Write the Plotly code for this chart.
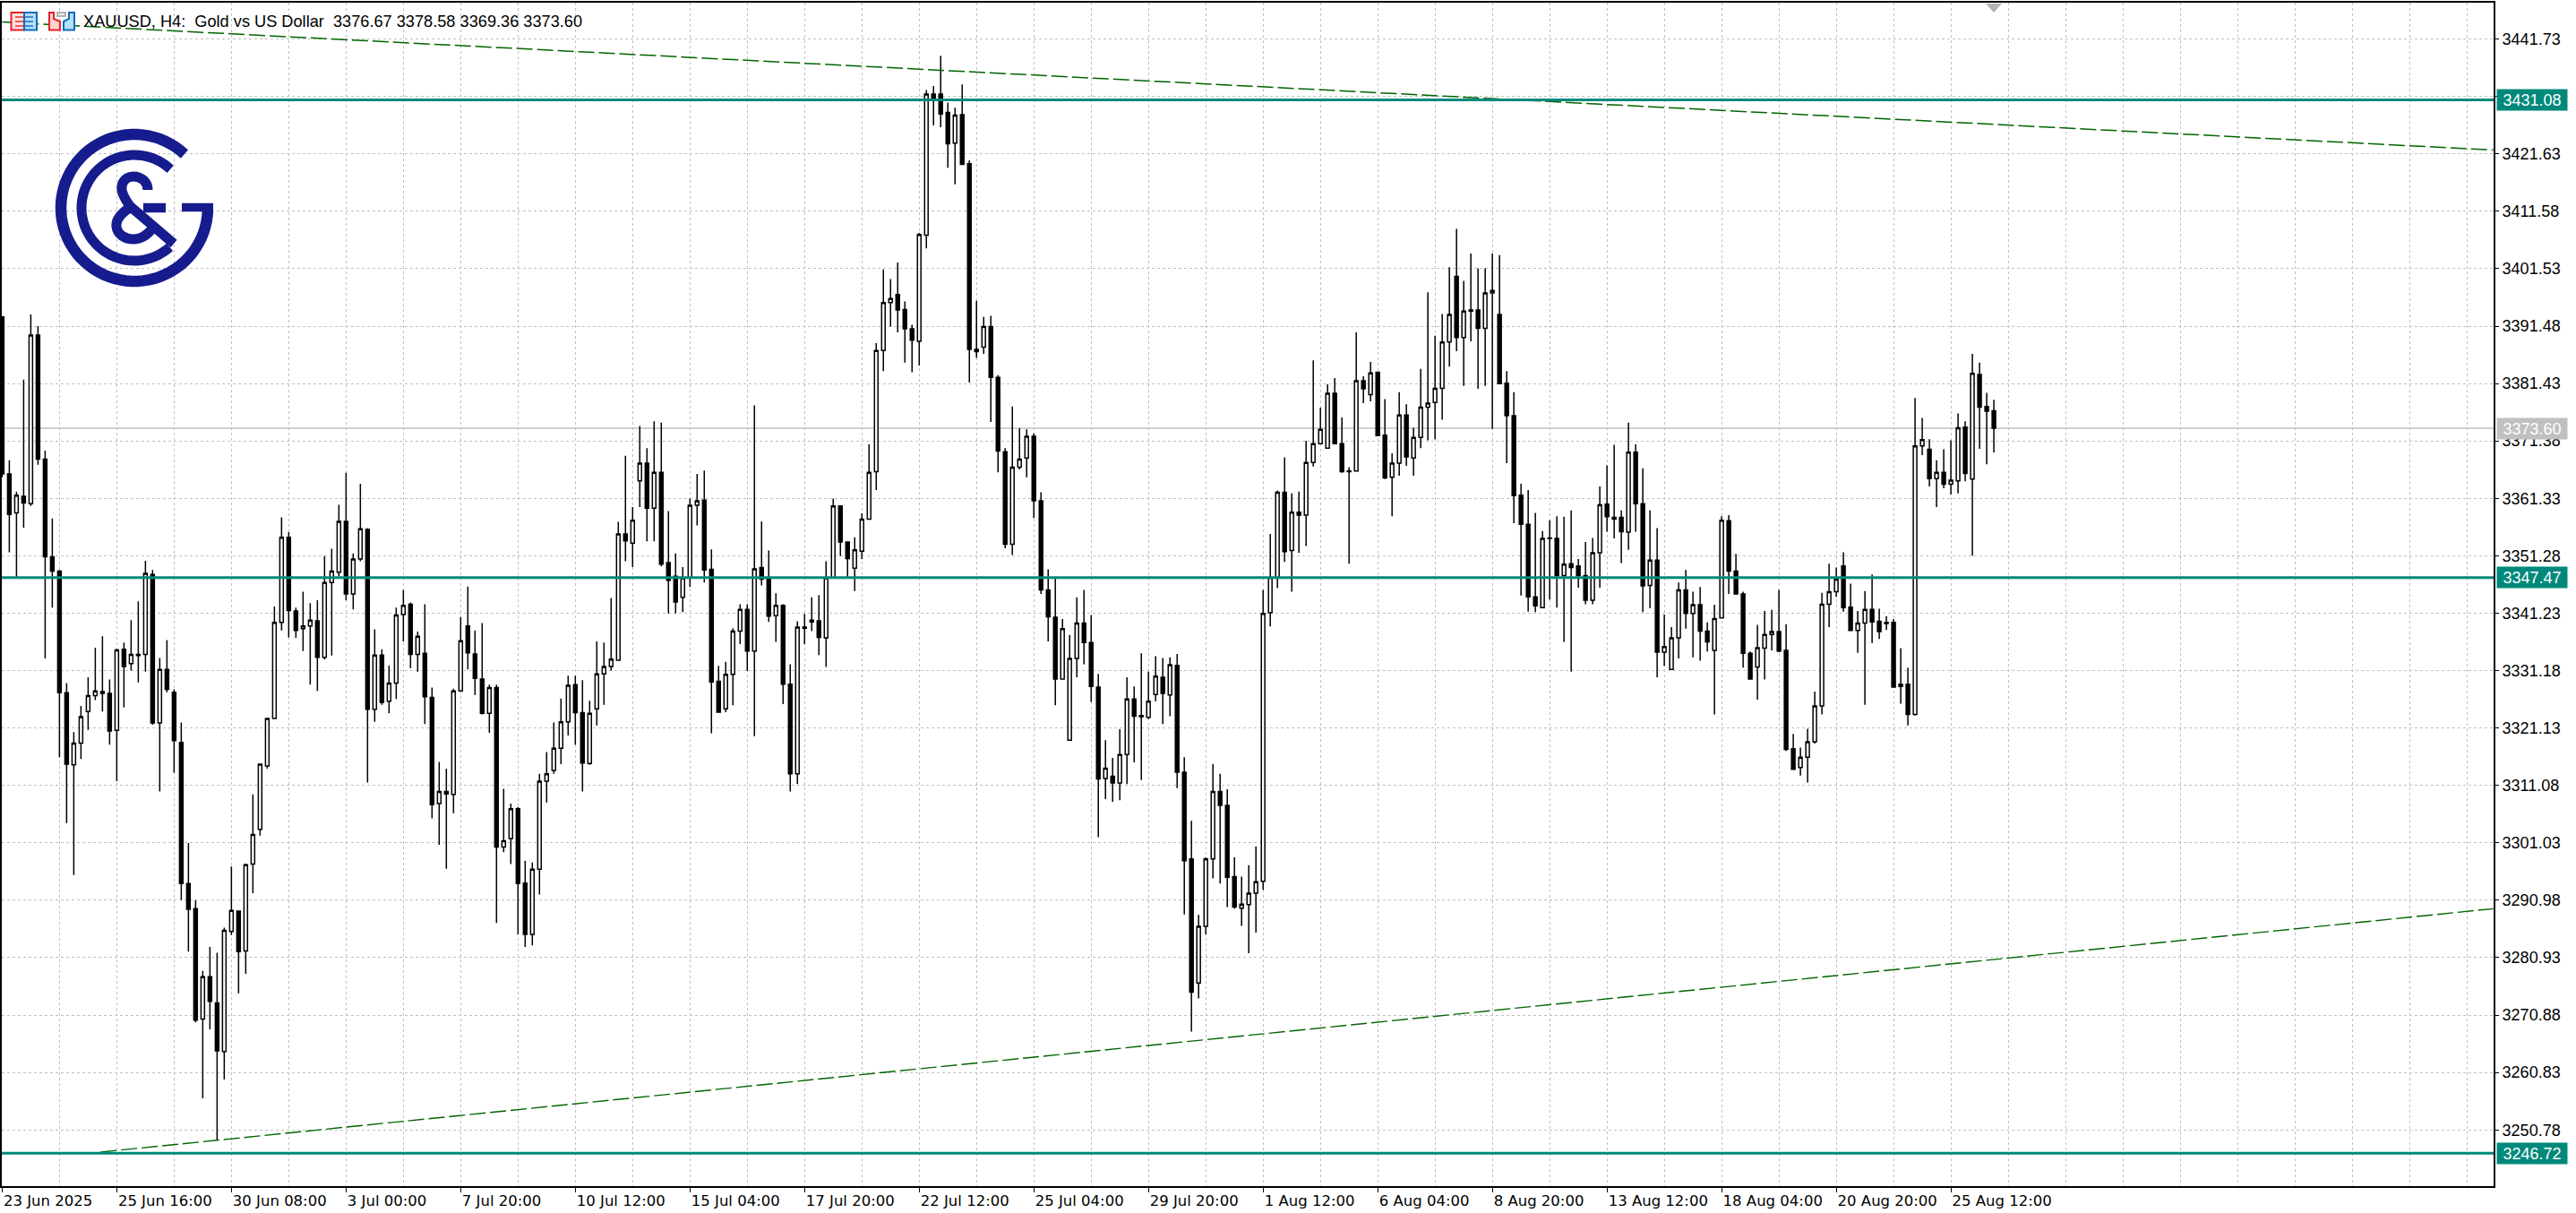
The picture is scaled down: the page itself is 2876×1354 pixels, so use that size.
import numpy as np
import plotly.graph_objects as go

WIDTH, HEIGHT = 2876, 1354
LEFT, RIGHT, TOP, BOTTOM = 2, 2784, 3, 1324

open_ = [
 3393.1,3365.6,3358.8,3361.7,3360.4,3389.9,3368.2,3351.1,3348.6,3327.3,
 3314.7,3318.5,3324.0,3326.8,3327.5,3327.2,3320.7,3334.9,3332.4,3334.0,
 3334.0,3348.0,3322.0,3331.4,3327.4,3318.6,3293.9,3289.5,3270.2,3277.6,
 3273.0,3264.5,3285.5,3289.1,3282.1,3297.3,3303.4,3314.5,3322.8,3339.6,
 3354.5,3341.6,3338.5,3339.0,3339.9,3333.5,3346.6,3348.4,3357.3,3344.6,
 3350.7,3355.9,3324.4,3333.9,3325.8,3329.0,3341.0,3342.8,3334.0,3334.2,
 3326.5,3307.9,3310.0,3309.5,3327.6,3339.0,3334.1,3329.7,3323.7,3328.2,
 3300.3,3301.8,3307.0,3294.0,3285.0,3296.4,3311.8,3313.7,3317.6,3322.2,
 3328.7,3323.8,3314.9,3324.5,3330.6,3331.9,3333.0,3355.1,3353.5,3364.4,
 3367.5,3359.6,3365.9,3350.1,3347.7,3344.0,3347.4,3360.1,3361.0,3348.9,
 3329.3,3324.5,3330.5,3338.1,3341.9,3334.6,3349.2,3347.2,3340.8,3342.6,
 3328.8,3313.1,3338.8,3340.0,3339.9,3336.9,3347.4,3360.0,3353.7,3349.1,
 3352.1,3357.7,3366.0,3387.2,3395.6,3397.0,3394.4,3391.0,3388.8,3407.4,
 3432.1,3432.1,3428.9,3423.5,3428.5,3419.9,3387.4,3387.8,3391.4,3382.5,
 3369.5,3353.3,3366.8,3368.4,3372.2,3360.9,3345.3,3340.5,3329.7,3319.0,
 3333.3,3339.5,3336.1,3328.3,3312.3,3312.7,3311.5,3316.5,3326.2,3323.3,
 3323.0,3327.0,3330.0,3326.9,3332.1,3313.4,3298.2,3276.5,3286.4,3298.2,
 3310.0,3307.6,3295.1,3289.6,3290.2,3292.2,3294.3,3341.3,3347.5,3362.4,
 3352.2,3358.9,3358.4,3367.6,3370.9,3370.1,3379.7,3370.9,3366.0,3366.1,
 3381.9,3379.5,3383.4,3372.4,3365.0,3367.5,3375.9,3368.4,3372.0,3377.3,
 3378.1,3380.6,3388.7,3400.2,3389.5,3394.3,3394.3,3391.1,3397.3,3393.5,
 3381.5,3375.8,3361.9,3356.8,3344.1,3342.2,3354.4,3354.3,3347.8,3349.9,
 3349.5,3347.8,3343.5,3351.8,3360.3,3358.0,3358.0,3355.4,3369.4,3360.4,
 3346.1,3350.5,3334.4,3331.4,3336.9,3345.3,3341.2,3342.7,3338.1,3334.7,
 3340.4,3357.4,3348.6,3344.6,3334.2,3331.8,3335.1,3337.5,3338.0,3334.7,
 3317.5,3314.2,3316.0,3318.7,3325.0,3342.8,3345.0,3349.5,3342.3,3338.2,
 3339.5,3341.9,3339.8,3339.6,3339.6,3328.4,3328.8,3323.5,3370.5,3369.9,
 3364.8,3365.9,3363.8,3364.4,3373.8,3364.7,3383.0,3377.4,3376.67,
]
high = [
 3393.2,3368.0,3362.5,3382.1,3393.5,3391.5,3369.7,3357.8,3348.8,3329.0,
 3320.4,3325.0,3330.0,3335.2,3337.2,3329.6,3335.0,3336.1,3340.0,3343.3,
 3350.4,3348.8,3333.4,3336.5,3327.9,3322.1,3301.0,3291.0,3278.6,3282.8,
 3281.8,3286.2,3296.9,3289.2,3297.4,3309.5,3314.8,3322.9,3342.4,3358.0,
 3355.4,3342.2,3345.0,3343.0,3343.5,3351.2,3352.5,3360.2,3365.8,3351.7,
 3363.9,3356.1,3338.4,3334.9,3332.1,3342.2,3345.3,3343.1,3338.0,3342.8,
 3328.2,3315.2,3314.0,3328.0,3340.5,3345.9,3338.2,3339.5,3328.7,3328.7,
 3310.5,3307.9,3307.3,3297.9,3297.6,3313.1,3316.9,3322.1,3326.3,3330.3,
 3330.3,3329.5,3325.9,3336.3,3336.1,3343.9,3357.2,3368.8,3359.8,3374.0,
 3370.1,3374.8,3374.6,3359.1,3351.7,3349.3,3361.3,3365.6,3366.2,3352.4,
 3332.0,3332.7,3338.6,3342.8,3342.8,3377.6,3357.3,3352.2,3344.7,3342.8,
 3332.3,3339.8,3341.1,3344.0,3344.4,3350.3,3361.3,3360.1,3353.7,3354.5,
 3358.7,3370.8,3388.5,3401.4,3399.7,3402.6,3395.8,3391.7,3407.8,3432.8,
 3433.5,3438.8,3430.6,3429.7,3433.8,3420.5,3395.9,3393.1,3393.3,3382.9,
 3370.1,3377.4,3373.6,3373.4,3372.7,3362.4,3348.9,3347.4,3340.2,3337.4,
 3344.0,3345.3,3340.9,3330.6,3319.0,3315.9,3320.9,3330.0,3328.4,3334.2,
 3331.0,3333.7,3333.4,3333.5,3334.1,3316.0,3304.9,3288.4,3298.5,3314.8,
 3313.1,3310.4,3298.5,3295.1,3297.1,3300.4,3345.3,3355.1,3362.7,3368.5,
 3362.2,3362.5,3371.4,3385.5,3377.2,3381.3,3382.4,3375.5,3366.8,3390.4,
 3382.7,3385.2,3383.5,3378.7,3369.2,3379.9,3377.8,3373.7,3384.0,3397.4,
 3389.8,3393.6,3401.8,3408.5,3399.4,3404.2,3401.6,3401.6,3404.2,3403.9,
 3383.6,3379.9,3363.9,3362.8,3358.8,3355.6,3357.5,3358.2,3358.1,3359.2,
 3350.7,3353.7,3354.4,3363.4,3367.1,3370.7,3359.2,3374.6,3370.8,3366.6,
 3359.2,3356.1,3341.0,3338.8,3346.6,3348.8,3345.0,3345.8,3339.6,3342.7,
 3358.2,3358.4,3351.6,3345.0,3334.5,3339.2,3341.6,3341.8,3345.3,3339.3,
 3320.1,3317.7,3321.0,3327.5,3344.8,3349.9,3349.2,3351.9,3346.4,3341.6,
 3345.1,3348.0,3342.0,3340.7,3340.2,3335.1,3331.7,3378.9,3375.4,3371.7,
 3368.0,3369.9,3371.5,3376.2,3374.8,3386.6,3385.1,3379.8,3378.58,
]
low = [
 3365.0,3351.9,3347.3,3356.2,3360.0,3367.2,3333.3,3342.2,3316.0,3304.5,
 3295.4,3315.7,3320.8,3326.0,3324.0,3318.2,3311.8,3324.7,3331.2,3329.1,
 3331.0,3321.7,3310.0,3327.4,3313.3,3291.0,3282.0,3269.6,3256.3,3268.4,
 3249.0,3259.6,3284.9,3274.7,3278.1,3292.2,3302.3,3314.0,3322.8,3338.2,
 3337.0,3336.9,3334.6,3328.7,3327.6,3333.1,3333.8,3347.7,3343.5,3341.9,
 3350.3,3311.6,3322.2,3325.2,3323.7,3326.2,3336.3,3331.6,3331.0,3321.8,
 3305.3,3300.7,3296.5,3306.2,3327.6,3331.4,3326.9,3323.5,3320.3,3287.0,
 3299.4,3297.3,3285.0,3282.8,3283.1,3292.0,3308.1,3313.1,3314.8,3319.8,
 3318.2,3310.0,3314.7,3321.6,3325.2,3331.2,3333.0,3350.3,3349.3,3359.8,
 3353.8,3353.8,3349.4,3341.2,3341.2,3341.4,3345.8,3356.6,3346.6,3320.2,
 3323.9,3323.9,3325.1,3335.8,3331.1,3319.7,3346.1,3339.7,3336.2,3325.3,
 3310.0,3311.3,3335.8,3338.1,3333.9,3331.8,3347.4,3351.2,3347.4,3345.1,
 3350.7,3357.7,3362.8,3383.6,3391.4,3390.4,3385.1,3383.4,3384.6,3405.1,
 3426.6,3426.3,3419.2,3416.3,3419.8,3381.6,3385.9,3386.6,3374.7,3365.9,
 3352.6,3351.4,3366.4,3365.0,3357.9,3344.6,3336.3,3325.1,3329.7,3319.0,
 3330.0,3332.3,3325.7,3302.0,3308.7,3308.2,3308.5,3311.3,3315.1,3312.0,
 3322.7,3325.8,3321.8,3323.2,3310.6,3288.5,3268.0,3273.8,3285.0,3294.8,
 3293.9,3289.8,3289.5,3286.5,3281.7,3285.3,3292.8,3338.9,3345.6,3350.2,
 3345.0,3351.8,3353.0,3366.9,3370.8,3370.1,3370.9,3365.8,3349.9,3366.1,
 3378.0,3378.3,3372.2,3364.7,3358.2,3365.3,3367.0,3365.3,3370.1,3371.5,
 3371.7,3375.1,3384.4,3387.1,3381.0,3388.8,3380.5,3381.0,3373.5,3381.3,
 3367.5,3357.0,3344.3,3341.5,3341.4,3342.2,3343.6,3342.2,3336.2,3331.0,
 3345.7,3342.8,3342.8,3345.7,3355.5,3354.3,3350.0,3352.3,3355.5,3341.4,
 3342.1,3330.0,3332.0,3331.4,3333.3,3338.5,3333.5,3332.9,3334.5,3323.5,
 3340.4,3344.6,3344.6,3331.7,3329.7,3326.1,3329.6,3334.7,3334.4,3317.1,
 3313.9,3312.8,3311.6,3318.4,3323.5,3338.8,3344.1,3341.5,3338.2,3334.3,
 3325.2,3336.0,3336.7,3338.3,3328.2,3325.4,3321.6,3323.3,3368.9,3363.4,
 3359.8,3363.1,3362.0,3362.2,3364.3,3351.3,3370.0,3367.3,3369.36,
]
close = [
 3365.6,3358.5,3361.9,3360.5,3389.9,3368.2,3351.1,3348.6,3327.3,3314.8,
 3318.5,3323.1,3326.8,3327.6,3327.2,3320.6,3334.8,3331.9,3334.0,3333.8,
 3348.2,3322.0,3331.4,3327.9,3318.9,3293.9,3289.4,3270.0,3277.6,3273.3,
 3264.6,3285.7,3289.2,3282.0,3297.2,3302.5,3314.8,3322.8,3339.6,3354.5,
 3341.7,3338.2,3339.0,3340.0,3333.5,3346.6,3348.6,3357.3,3344.6,3350.7,
 3356.0,3324.4,3333.9,3325.6,3329.0,3340.9,3342.6,3334.0,3337.2,3326.6,
 3307.7,3310.0,3309.6,3327.6,3336.4,3334.3,3329.8,3323.7,3328.2,3300.3,
 3301.4,3307.0,3293.9,3285.0,3296.4,3311.8,3313.1,3317.6,3322.2,3328.6,
 3323.8,3315.0,3323.7,3330.6,3331.9,3333.2,3355.1,3353.9,3357.5,3367.5,
 3359.6,3365.9,3349.8,3347.0,3343.2,3347.4,3360.1,3360.9,3348.8,3329.2,
 3323.9,3330.5,3338.1,3341.9,3334.6,3349.0,3347.2,3340.7,3342.6,3328.8,
 3313.1,3338.8,3338.6,3339.7,3337.0,3347.4,3360.0,3353.7,3350.8,3352.3,
 3357.7,3365.9,3387.2,3395.6,3396.3,3394.3,3391.0,3389.0,3407.5,3432.1,
 3431.0,3428.6,3423.4,3428.4,3419.8,3387.4,3387.0,3391.4,3382.5,3369.6,
 3353.3,3366.8,3368.2,3372.2,3360.9,3345.3,3340.6,3329.7,3338.5,3333.3,
 3339.5,3336.1,3328.4,3312.2,3314.1,3311.5,3316.5,3326.2,3323.2,3323.1,
 3325.8,3330.2,3327.2,3332.2,3313.4,3297.9,3274.9,3286.4,3298.2,3310.0,
 3307.6,3295.0,3289.8,3290.3,3292.2,3294.2,3341.2,3347.5,3362.4,3352.0,
 3358.9,3358.4,3367.6,3370.9,3373.4,3379.7,3370.9,3366.0,3366.1,3381.9,
 3380.5,3383.3,3372.3,3364.9,3367.5,3375.9,3368.6,3372.0,3377.3,3378.0,
 3380.6,3388.7,3393.5,3389.5,3394.1,3394.1,3391.1,3397.3,3397.7,3381.4,
 3375.8,3361.8,3356.8,3344.1,3342.5,3354.3,3354.3,3347.8,3349.8,3349.2,
 3347.8,3343.5,3351.8,3360.2,3358.1,3357.7,3355.5,3369.4,3360.4,3346.0,
 3350.5,3334.4,3335.4,3336.9,3345.3,3341.2,3342.7,3338.1,3336.2,3340.3,
 3357.5,3348.6,3344.6,3334.2,3329.7,3335.2,3337.5,3338.0,3334.6,3317.4,
 3313.9,3316.0,3318.7,3325.0,3342.8,3345.0,3347.2,3342.2,3338.2,3339.5,
 3341.9,3339.7,3338.0,3339.4,3328.3,3328.8,3323.5,3370.5,3371.6,3364.8,
 3365.9,3363.8,3364.5,3373.7,3365.7,3383.2,3377.3,3376.6,3373.60,
]
assert len(open_) == len(high) == len(low) == len(close) == 279

bar_index = list(range(len(open_)))

date_labels = ["23 Jun 2025", "25 Jun 16:00", "30 Jun 08:00", "3 Jul 00:00", "7 Jul 20:00",
               "10 Jul 12:00", "15 Jul 04:00", "17 Jul 20:00", "22 Jul 12:00", "25 Jul 04:00",
               "29 Jul 20:00", "1 Aug 12:00", "6 Aug 04:00", "8 Aug 20:00", "13 Aug 12:00",
               "18 Aug 04:00", "20 Aug 20:00", "25 Aug 12:00"]
date_ticks = [16 * k for k in range(len(date_labels))]

price_ticks = [3250.78, 3260.83, 3270.88, 3280.93, 3290.98, 3301.03, 3311.08, 3321.13, 3331.18,
               3341.23, 3351.28, 3361.33, 3371.38, 3381.43, 3391.48, 3401.53, 3411.58, 3421.63,
               3431.68, 3441.73]
price_labels = ["%.2f" % p if p != 3431.68 else "" for p in price_ticks]

levels = [3431.08, 3347.47, 3246.72]
last_price = 3373.60
upper_trend_x, upper_trend_y = [0, 347.7], [3444.7, 3422.3]
lower_trend_x, lower_trend_y = [13.75, 347.7], [3246.9, 3289.5]

X_RANGE = [-0.05, 347.75]
Y_RANGE = [3240.94, 3448.09]
TEAL = "#00897b"
NAVY = "#161c8d"
GRID = "#c0c0c0"
TICK_FONT = dict(family="Liberation Sans", size=18, color="#000000")


def px(x, y):
    return (x - LEFT) / (RIGHT - LEFT), (BOTTOM - y) / (BOTTOM - TOP)


def path_from(cmds):
    out = []
    for c in cmds:
        if c == "Z":
            out.append("Z")
            continue
        op, pts = c
        out.append(op + " ".join("%.5f,%.5f" % px(*p) for p in pts))
    return " ".join(out)


def shape_path(cmds, line=None, width=0, fill=None, layer="above"):
    d = dict(type="path", xref="paper", yref="paper", path=path_from(cmds), layer=layer,
             line=dict(color=line or "rgba(0,0,0,0)", width=width))
    if fill:
        d["fillcolor"] = fill
    return d


def arc(cx, cy, r, a0, a1, n=70):
    ang = np.radians(np.linspace(a0, a1, n))
    pts = [(cx + r * np.cos(t), cy - r * np.sin(t)) for t in ang]
    return [("M", [pts[0]])] + [("L", [p]) for p in pts[1:]]


def rect(x0, y0, x1, y1, **kw):
    return dict(type="rect", xref="paper", yref="paper",
                x0=px(x0, y0)[0], y0=px(x0, y0)[1], x1=px(x1, y1)[0], y1=px(x1, y1)[1], **kw)


fig = go.Figure()
fig.add_trace(go.Scatter(x=upper_trend_x, y=upper_trend_y, mode="lines", hoverinfo="skip",
                         line=dict(color="#006400", width=1.5, dash="18px,5px"), showlegend=False))
fig.add_trace(go.Scatter(x=lower_trend_x, y=lower_trend_y, mode="lines", hoverinfo="skip",
                         line=dict(color="#006400", width=1.4, dash="18px,5px"), showlegend=False))
fig.add_trace(go.Candlestick(
    x=bar_index, open=open_, high=high, low=low, close=close, hoverinfo="skip",
    increasing=dict(line=dict(color="#000000", width=1.5), fillcolor="#ffffff"),
    decreasing=dict(line=dict(color="#000000", width=1.5), fillcolor="#000000"),
    whiskerwidth=0, showlegend=False))

shapes = []
# price levels and last price
shapes.append(dict(type="line", xref="paper", yref="y", x0=0, x1=1, y0=last_price, y1=last_price,
                   line=dict(color="#c0c0c0", width=1.5), layer="below"))
for lv in levels:
    shapes.append(dict(type="line", xref="paper", yref="y", x0=0, x1=1, y0=lv, y1=lv,
                       line=dict(color=TEAL, width=3), layer="above"))

# logo
shapes.append(shape_path(arc(150, 232, 82, 47, 358), line=NAVY, width=12.5))
shapes.append(shape_path(arc(150, 232, 59, 47, 312), line=NAVY, width=11))
shapes.append(shape_path([("M", [(203, 231.5)]), ("L", [(238, 231.5)])], line=NAVY, width=9.5))
shapes.append(shape_path([("M", [(165, 212)]), ("C", [(165, 203), (158, 197), (149, 197)]),
                          ("C", [(140, 197), (135, 204), (136, 212)]),
                          ("C", [(137, 219), (141, 224), (145, 230)]), ("L", [(194, 272)])],
                         line=NAVY, width=11))
shapes.append(shape_path([("M", [(146, 231)]), ("C", [(135, 238), (129, 245), (130, 253)]),
                          ("C", [(131, 262), (140, 267), (149, 267)]),
                          ("C", [(158, 267), (165, 262), (171, 254)])], line=NAVY, width=11))
shapes.append(shape_path([("M", [(160, 232)]), ("L", [(185, 232)])], line=NAVY, width=10.5))

# toolbar icons
shapes.append(rect(12.5, 14, 27, 33.5, line=dict(color="#e8202a", width=2), fillcolor="#fde0dc"))
shapes.append(rect(27, 14, 41, 33.5, line=dict(color="#0f6cb8", width=2), fillcolor="#b5def7"))
for yy in (19, 24, 29):
    shapes.append(rect(17, yy - 0.7, 26, yy + 0.7, line=dict(width=0), fillcolor="#e8202a"))
    shapes.append(rect(28, yy - 0.7, 37, yy + 0.7, line=dict(width=0), fillcolor="#0f6cb8"))
shapes.append(shape_path([("M", [(55, 14)]), ("L", [(60, 14)]), ("L", [(60, 21)]), ("L", [(67, 24)]),
                          ("L", [(67, 33.5)]), ("L", [(55, 33.5)]), "Z"],
                         line="#e8202a", width=2, fill="#fdd5cc"))
shapes.append(shape_path([("M", [(71, 24)]), ("L", [(77, 21)]), ("L", [(77, 14)]), ("L", [(83, 14)]),
                          ("L", [(83, 33.5)]), ("L", [(71, 33.5)]), "Z"],
                         line="#0f6cb8", width=2, fill="#b5def7"))
shapes.append(rect(64, 14, 73, 18, line=dict(color="#a0a0a0", width=1.5), fillcolor="#e8e8e8"))
# shift marker at the top edge
shapes.append(shape_path([("M", [(2217, 4)]), ("L", [(2235, 4)]), ("L", [(2226, 14)]), "Z"],
                         width=0, fill="#b4b4b4"))

annotations = [dict(xref="paper", yref="paper", x=px(91, 0)[0], y=px(0, 24)[1], xanchor="left",
                    yanchor="middle", showarrow=False, align="left",
                    text="XAUUSD, H4:  Gold vs US Dollar  3376.67 3378.58 3369.36 3373.60",
                    font=dict(family="Liberation Sans", size=18.2, color="#000000"))]
for lv, col in [(levels[0], TEAL), (levels[1], TEAL), (levels[2], TEAL), (last_price, "#c0c0c0")]:
    annotations.append(dict(xref="paper", yref="y", x=1, y=lv, xshift=3, xanchor="left", yanchor="middle",
                            showarrow=False, bgcolor=col, width=78, height=23, borderpad=0, align="center",
                            valign="middle", text="%.2f" % lv,
                            font=dict(family="Liberation Sans", size=18, color="#ffffff")))

fig.update_layout(
    width=WIDTH, height=HEIGHT,
    margin=dict(l=LEFT, r=WIDTH - RIGHT, t=TOP, b=HEIGHT - BOTTOM, autoexpand=False),
    paper_bgcolor="#ffffff", plot_bgcolor="#ffffff", showlegend=False, boxgap=0.3,
    shapes=shapes, annotations=annotations, hovermode=False,
    xaxis=dict(range=X_RANGE, type="linear", rangeslider=dict(visible=False), tickmode="array",
               tickvals=date_ticks, ticktext=date_labels, ticklabelposition="outside right",
               showgrid=True, gridcolor=GRID, griddash="3px,3px", gridwidth=1,
               ticks="outside", ticklen=5, tickwidth=1, tickcolor="#000000",
               showline=True, linecolor="#000000", linewidth=2, mirror=True, zeroline=False,
               tickfont=dict(family="DejaVu Sans", size=16.5, color="#000000"),
               minor=dict(tickmode="linear", tick0=0, dtick=8, showgrid=True, gridcolor=GRID,
                          griddash="3px,3px", gridwidth=1, ticks="")),
    yaxis=dict(range=Y_RANGE, side="right", tickmode="array", tickvals=price_ticks, ticktext=price_labels,
               showgrid=True, gridcolor=GRID, griddash="3px,3px", gridwidth=1,
               ticks="outside", ticklen=4, tickwidth=1, tickcolor="#000000",
               showline=True, linecolor="#000000", linewidth=2, mirror=True, zeroline=False,
               tickfont=TICK_FONT),
)

fig.write_html("out.html", config=dict(displayModeBar=False),
               post_script="document.body.style.margin='0';document.body.style.overflow='hidden';")
